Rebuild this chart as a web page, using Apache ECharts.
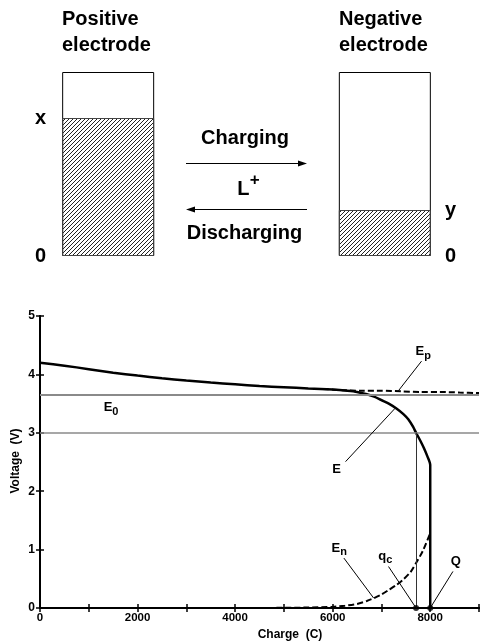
<!DOCTYPE html>
<html>
<head>
<meta charset="utf-8">
<script src="https://cdn.jsdelivr.net/npm/echarts@6/dist/echarts.min.js"></script>
<style>
html,body{margin:0;padding:0;background:#fff;}
#c{width:482px;height:643px;}
</style>
</head>
<body>
<div id="c"></div>
<script>
// ---------- data ----------
// schematic: electrodes and their lithium fill levels
const electrodes = ['Positive electrode', '', 'Negative electrode'];
const fullLevels = [1, '-', 1];
const fillLevels = [0.75, '-', 0.25];   // x (positive) and y (negative)
const posLevelName = 'x';
const negLevelName = 'y';

// voltage curves: [charge (C), voltage (V)]
const curveE = [
  [0,4.20],[500,4.15],[1000,4.09],[1500,4.03],[2000,3.98],[2500,3.935],[3000,3.895],
  [3500,3.86],[4000,3.83],[4500,3.80],[5000,3.78],[5500,3.76],[6000,3.74],[6300,3.72],
  [6500,3.70],[6700,3.66],[6850,3.62],[7000,3.56],[7150,3.50],[7300,3.42],[7450,3.32],
  [7550,3.23],[7650,3.10],[7710,3.00],[7800,2.86],[7870,2.74],[7940,2.60],[8000,2.45],[8000,0]
];
const curveEp = [
  [5800,3.75],[6200,3.73],[6600,3.72],[7000,3.72],[7400,3.71],[7800,3.70],
  [8200,3.70],[8600,3.69],[9000,3.68]
];
const curveEn = [
  [3000,0],[4000,0],[5000,0.003],[5500,0.008],[6000,0.02],[6250,0.04],[6500,0.07],
  [6700,0.12],[6850,0.17],[7000,0.23],[7150,0.31],[7300,0.39],[7450,0.49],[7600,0.62],
  [7710,0.77],[7850,0.98],[8000,1.28]
];
const E0 = 3.65;
const cutoffV = 3.0;
const qc = 7710;
const Q = 8000;

// axis ticks
const xMin = 0, xMax = 9000, xStep = 1000, xLabelStep = 2000;
const yMin = 0, yMax = 5, yStep = 1;

// annotations: label text (rich), label anchor, leader line
const annLabels = [
  { text: '{m|E}{s|0}', at: [1457, 3.41] },
  { text: '{m|E}{s|p}', at: [7857, 4.37] },
  { text: '{m|E}',      at: [6079, 2.36] },
  { text: '{m|E}{s|n}', at: [6136, 1.01] },
  { text: '{m|q}{s|c}', at: [7081, 0.87] },
  { text: '{m|Q}',      at: [8523, 0.78] }
];
const leaders = [
  [[7822,4.227],[7348,3.72]],
  [[6264,2.506],[7280,3.42]],
  [[6230,0.855],[6840,0.17]],
  [[7145,0.71],[qc,0]],
  [[8466,0.626],[Q,0]]
];
const endPoints = [[qc,0],[Q,0]];

// ---------- style helpers ----------
const FONT = "'Liberation Sans', Arial, Helvetica, sans-serif";
const pc = document.createElement('canvas');
pc.width = 4; pc.height = 4;
const g = pc.getContext('2d');
g.strokeStyle = '#222'; g.lineWidth = 1;
g.beginPath();
g.moveTo(0,4); g.lineTo(4,0);
g.moveTo(-1,1); g.lineTo(1,-1);
g.moveTo(3,5); g.lineTo(5,3);
g.stroke();
const hatch = { image: pc, repeat: 'repeat' };

const chart = echarts.init(document.getElementById('c'), null, {renderer:'canvas'});

const gText = (text, x, y, size, align, extra) => Object.assign({
  type: 'text', x: x, y: y,
  style: { text: text, fontFamily: FONT, fontWeight: 'bold', fontSize: size,
           fill: '#000', align: align || 'center', verticalAlign: 'middle', lineHeight: 26 }
}, extra || {});

const option = {
  animation: false,
  backgroundColor: '#fff',
  textStyle: { fontFamily: FONT },
  grid: [
    { left: 39, top: 72, width: 415, height: 184 },
    { left: 40, top: 316, width: 443, height: 292 }
  ],
  xAxis: [
    { gridIndex: 0, type: 'category', data: electrodes, show: false },
    { gridIndex: 1, type: 'value', min: xMin, max: xMax, interval: xStep, position: 'bottom',
      axisLine: { lineStyle: { color: '#000', width: 2 } },
      axisTick: { inside: true, length: 4, lineStyle: { color: '#000', width: 1.5 } },
      axisLabel: { color: '#000', fontWeight: 'bold', fontSize: 11.5, margin: 4,
                   formatter: v => (v % xLabelStep === 0 ? String(v) : '') },
      splitLine: { show: false } },
    { gridIndex: 1, type: 'value', min: xMin, max: xMax, interval: xStep, position: 'top',
      axisLine: { lineStyle: { color: '#000', width: 2 } },
      axisTick: { inside: true, length: 4, lineStyle: { color: '#000', width: 1.5 } },
      axisLabel: { show: false }, splitLine: { show: false } }
  ],
  yAxis: [
    { gridIndex: 0, type: 'value', min: 0, max: 1, interval: 0.25, position: 'left',
      axisLine: { show: false }, axisTick: { show: false }, splitLine: { show: false },
      axisLabel: { color: '#000', fontWeight: 'bold', fontSize: 20, margin: -7,
                   formatter: v => (v === 0 ? '0' : (v === fillLevels[0] ? posLevelName : '')) } },
    { gridIndex: 0, type: 'value', min: 0, max: 1, interval: 0.25, position: 'right',
      axisLine: { show: false }, axisTick: { show: false }, splitLine: { show: false },
      axisLabel: { color: '#000', fontWeight: 'bold', fontSize: 20, margin: -9,
                   formatter: v => (v === 0 ? '0' : (v === fillLevels[2] ? negLevelName : '')) } },
    { gridIndex: 1, type: 'value', min: yMin, max: yMax, interval: yStep, position: 'left',
      axisLine: { show: true, lineStyle: { color: '#000', width: 2 } },
      axisTick: { show: true, inside: true, length: 4, lineStyle: { color: '#000', width: 1.5 } },
      axisLabel: { color: '#000', fontWeight: 'bold', fontSize: 12, margin: 5 },
      splitLine: { show: false } },
    { gridIndex: 1, type: 'value', min: yMin, max: yMax, interval: yStep, position: 'right',
      axisLine: { show: true, lineStyle: { color: '#000', width: 2 } },
      axisTick: { show: true, inside: true, length: 4, lineStyle: { color: '#000', width: 1.5 } },
      axisLabel: { show: false }, splitLine: { show: false } }
  ],
  series: [
    { name: 'electrode', type: 'bar', xAxisIndex: 0, yAxisIndex: 0, data: fullLevels,
      barWidth: 92, silent: true,
      itemStyle: { color: '#fff', borderColor: '#000', borderWidth: 1 } },
    { name: 'lithium', type: 'bar', xAxisIndex: 0, yAxisIndex: 0, data: fillLevels,
      barWidth: 92, barGap: '-100%', silent: true,
      itemStyle: { color: hatch, borderColor: '#444', borderWidth: 1 } },
    { name: 'refs', type: 'line', xAxisIndex: 1, yAxisIndex: 2, data: [], silent: true,
      markLine: { silent: true, symbol: ['none','none'], label: { show: false }, animation: false,
        data: [
          { yAxis: E0, lineStyle: { color: '#8a8a8a', width: 2, type: 'solid' } },
          { yAxis: cutoffV, lineStyle: { color: '#8a8a8a', width: 1.5, type: 'solid' } },
          [ { coord: [qc, 0], lineStyle: { color: '#333', width: 1, type: 'solid' } }, { coord: [qc, cutoffV] } ]
        ].concat(leaders.map(l => [
          { coord: l[0], lineStyle: { color: '#000', width: 1, type: 'solid' } }, { coord: l[1] }
        ]))
      } },
    { name: 'E', type: 'line', xAxisIndex: 1, yAxisIndex: 2, data: curveE, showSymbol: false,
      smooth: 0.25, lineStyle: { color: '#000', width: 2.5 }, z: 3 },
    { name: 'Ep', type: 'line', xAxisIndex: 1, yAxisIndex: 2, data: curveEp, showSymbol: false,
      smooth: 0.25, lineStyle: { color: '#000', width: 2, type: [6,3] }, z: 4 },
    { name: 'En', type: 'line', xAxisIndex: 1, yAxisIndex: 2, data: curveEn, showSymbol: false,
      smooth: 0.25, lineStyle: { color: '#000', width: 2, type: [6,3] }, z: 4 },
    { name: 'points', type: 'scatter', xAxisIndex: 1, yAxisIndex: 2, data: endPoints,
      symbolSize: 6, itemStyle: { color: '#000' }, z: 5 },
    { name: 'labels', type: 'scatter', xAxisIndex: 1, yAxisIndex: 2, symbolSize: 0, silent: true, z: 6,
      itemStyle: { color: '#000', opacity: 1 },
      data: annLabels.map(a => ({ value: a.at, label: { formatter: a.text } })),
      label: { show: true, position: [0, 0], align: 'center', verticalAlign: 'middle',
        color: '#000', fontWeight: 'bold', fontSize: 13, textBorderWidth: 0, opacity: 1,
        rich: {
          m: { fontFamily: FONT, fontWeight: 'bold', fontSize: 13, lineHeight: 15, verticalAlign: 'top', color: '#000' },
          s: { fontFamily: FONT, fontWeight: 'bold', fontSize: 11, lineHeight: 12, padding: [5,0,0,0], verticalAlign: 'top', color: '#000' }
        } } }
  ],
  graphic: [
    gText('Positive\nelectrode', 62, 32.5, 20, 'left'),
    gText('Negative\nelectrode', 339, 32.5, 20, 'left'),
    gText('Charging', 245, 138, 20),
    gText('L', 243.3, 189, 20),
    gText('+', 254.7, 180, 17),
    gText('Discharging', 244.5, 233, 20),
    { type: 'line', shape: { x1: 186, y1: 163.5, x2: 300, y2: 163.5 }, style: { stroke: '#000', lineWidth: 1 } },
    { type: 'polygon', shape: { points: [[307,163.5],[298,160.5],[298,166.5]] }, style: { fill: '#000' } },
    { type: 'line', shape: { x1: 193, y1: 209.5, x2: 307, y2: 209.5 }, style: { stroke: '#000', lineWidth: 1 } },
    { type: 'polygon', shape: { points: [[186,209.5],[195,206.5],[195,212.5]] }, style: { fill: '#000' } },
    gText('Charge  (C)', 290, 635, 12),
    gText('Voltage  (V)', 15.5, 461, 12, 'center', { rotation: Math.PI / 2 })
  ]
};
chart.setOption(option);
</script>
</body>
</html>
